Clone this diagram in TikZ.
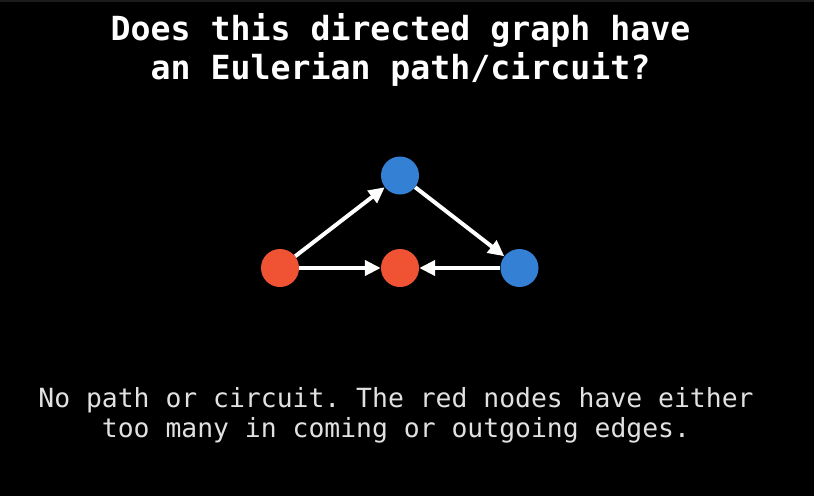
\documentclass[tikz,border=0pt]{standalone}
\usepackage{fontspec}
\setmonofont{DejaVu Sans Mono}
\usetikzlibrary{arrows.meta}
\definecolor{nodered}{RGB}{240,82,52}
\definecolor{nodeblue}{RGB}{52,128,212}
\definecolor{notegray}{RGB}{225,225,225}
\definecolor{stripgray}{RGB}{28,28,28}
\tikzset{
  vert/.style={circle, minimum size=38pt, inner sep=0pt, draw=none},
  redv/.style={vert, fill=nodered},
  bluev/.style={vert, fill=nodeblue},
  arr/.style={draw=white, line width=4pt, -{Triangle[length=16pt,width=15pt]}},
  titletext/.style={anchor=base, text=white, inner sep=0pt, font=\ttfamily\bfseries\fontsize{33.2}{39}\selectfont},
  notetext/.style={anchor=base, text=notegray, inner sep=0pt, font=\ttfamily\fontsize{26.4}{30}\selectfont}
}
\begin{document}
\begin{tikzpicture}[x=1pt,y=-1pt]
  \fill[black] (0,0) rectangle (814,496);
  \fill[stripgray] (0,0) rectangle (814,2);
  \useasboundingbox (0,0) rectangle (814,496);
  \node[titletext] (t1) at (400.5,40) {Does this directed graph have};
  \node[titletext] (t2) at (400.5,79) {an Eulerian path/circuit?};
  \node[redv] (a) at (280,268) {};
  \node[bluev] (b) at (400,175.5) {};
  \node[redv] (c) at (400,268) {};
  \node[bluev] (d) at (519.5,268) {};
  \draw[arr] (a) -- (b);
  \draw[arr] (b) -- (d);
  \draw[arr] (a) -- (c);
  \draw[arr] (d) -- (c);
  \node[notetext] (n1) at (396,407) {No path or circuit. The red nodes have either};
  \node[notetext] (n2) at (396,437) {too many in coming or outgoing edges.};
\end{tikzpicture}
\end{document}
